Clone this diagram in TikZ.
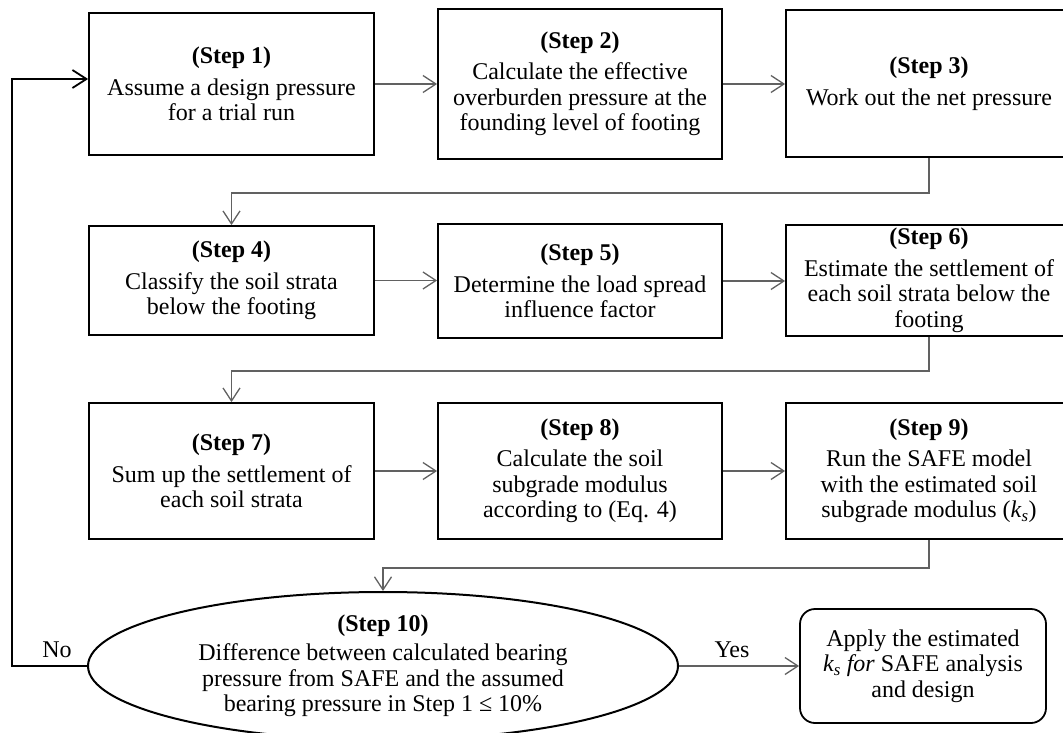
\documentclass[tikz,border=0pt]{standalone}
\usepackage{fontspec}
\setmainfont{Liberation Serif}
\usetikzlibrary{arrows.meta,shapes.geometric}
\tikzset{
  txt/.style={font=\fontsize{24}{25.5}\selectfont, align=center, inner sep=0pt},
  stepbox/.style={txt, draw=black, line width=1.8pt, rectangle},
  decbox/.style={txt, draw=black, line width=2pt, ellipse},
  endbox/.style={txt, draw=black, line width=1.8pt, rectangle, rounded corners=15pt},
  conn/.style={draw=black!62, line width=1.3pt, -{Straight Barb[length=13pt,width=17pt]}},
  loopconn/.style={draw=black, line width=1.8pt, -{Straight Barb[length=14pt,width=18pt]}},
  lbl/.style={font=\fontsize{24}{25.5}\selectfont, inner sep=0pt}
}
\newcommand{\ksub}{\textit{k}\textsubscript{\textit{s}}}
\begin{document}
\begin{tikzpicture}[x=1pt,y=-1pt]
\useasboundingbox (0,0) rectangle (1063,733);
\clip (0,0) rectangle (1063,733);

% Row 1
\node[stepbox, minimum width=285pt, minimum height=142pt] (s1) at (231.5,84)
  {\textbf{(Step 1)}\\[6pt]Assume a design pressure\\for a trial run};
\node[stepbox, minimum width=284pt, minimum height=150pt] (s2) at (580,84)
  {\textbf{(Step 2)}\\[6pt]Calculate the effective\\overburden pressure at the\\founding level of footing};
\node[stepbox, minimum width=286pt, minimum height=147pt] (s3) at (929,83.5)
  {\textbf{(Step 3)}\\[6pt]Work out the net pressure};

% Row 2
\node[stepbox, minimum width=285pt, minimum height=109pt] (s4) at (231.5,280.5)
  {\textbf{(Step 4)}\\[6pt]Classify the soil strata\\below the footing};
\node[stepbox, minimum width=284pt, minimum height=114pt] (s5) at (580,281)
  {\textbf{(Step 5)}\\[6pt]Determine the load spread\\influence factor};
\node[stepbox, minimum width=286pt, minimum height=111pt] (s6) at (929,280.5)
  {\textbf{(Step 6)}\\[6pt]Estimate the settlement of\\each soil strata below the\\footing};

% Row 3
\node[stepbox, minimum width=285pt, minimum height=136pt] (s7) at (231.5,471)
  {\textbf{(Step 7)}\\[6pt]Sum up the settlement of\\each soil strata};
\node[stepbox, minimum width=284pt, minimum height=136pt] (s8) at (580,471)
  {\textbf{(Step 8)}\\[6pt]Calculate the soil\\subgrade modulus\\according to (Eq. 4)};
\node[stepbox, minimum width=286pt, minimum height=136pt] (s9) at (929,471)
  {\textbf{(Step 9)}\\[6pt]Run the SAFE model\\with the estimated soil\\subgrade modulus (\ksub)};

% Decision and end
\node[decbox, minimum width=590pt, minimum height=148pt] (e) at (383,666)
  {\textbf{(Step 10)}\\[4pt]Difference between calculated bearing\\pressure from SAFE and the assumed\\bearing pressure in Step 1 ≤ 10\%};
\node[endbox, minimum width=246pt, minimum height=114pt] (f) at (923,666)
  {Apply the estimated\\\textit{k\textsubscript{s} for} SAFE analysis\\and design};

% Connectors
\draw[conn] (s1.east) -- (s2.west |- s1.east);
\draw[conn] (s2.east) -- (s3.west |- s2.east);
\draw[conn] (s3.south) -- ++(0,35) -| (s4.north);
\draw[conn] (s4.east) -- (s5.west |- s4.east);
\draw[conn] (s5.east) -- (s6.west |- s5.east);
\draw[conn] (s6.south) -- ++(0,34) -| (s7.north);
\draw[conn] (s7.east) -- (s8.west |- s7.east);
\draw[conn] (s8.east) -- (s9.west |- s8.east);
\draw[conn] (s9.south) -- ++(0,28) -| (e.north);
\draw[conn] (e.east) -- (f.west |- e.east);
\draw[loopconn] (e.west) -- ++(-75,0) |- ([yshift=5pt]s1.west);

\node[lbl] (no) at (57,650) {No};
\node[lbl] (yes) at (732,650) {Yes};
\end{tikzpicture}
\end{document}
